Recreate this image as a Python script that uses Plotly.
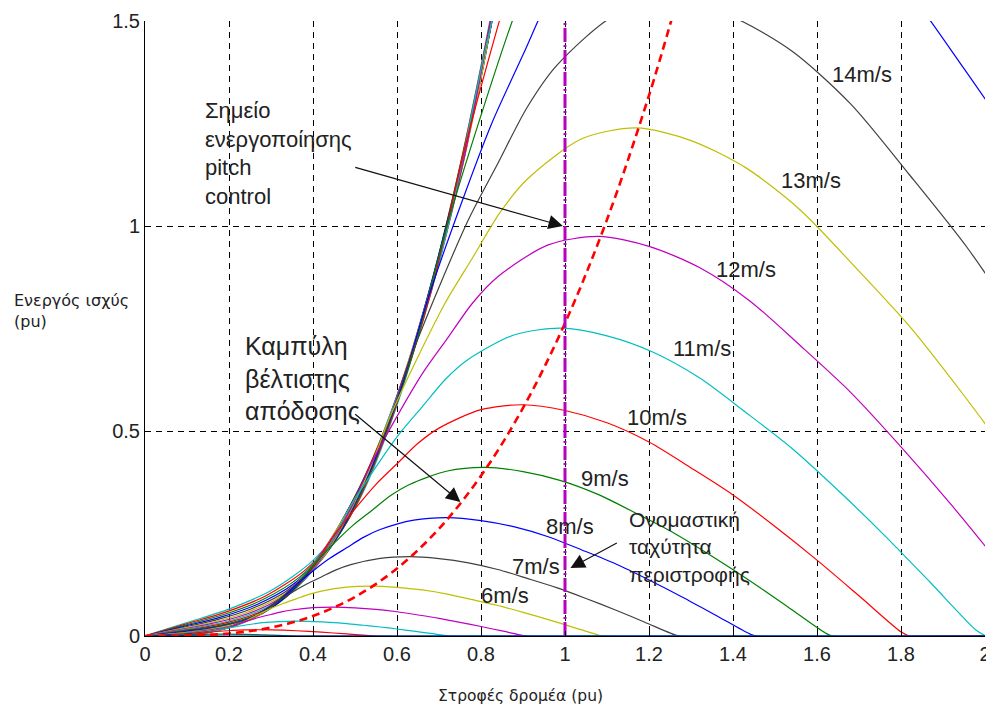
import plotly.graph_objects as go

# ---- data (rotor speed pu, active power pu) ----
SPEEDS = list(range(1, 26))

W_01 = [0, 0.04, 0.08, 0.12, 0.18, 2.0]
P_01 = [0, 0.0002, 0.0005, 0.0004, 0, 0]

W_02 = [0, 0.04, 0.08, 0.12, 0.16, 0.18, 0.20, 0.24, 0.28, 0.32, 0.364, 2.0]
P_02 = [0, 0.0002, 0.0014, 0.0034, 0.0044, 0.0045, 0.0044, 0.0038, 0.0028, 0.0015, 0, 0]

W_03 = [0, 0.06, 0.12, 0.15, 0.18, 0.21, 0.24, 0.27, 0.30, 0.36, 0.42, 0.48, 0.51, 0.546, 2.0]
P_03 = [0, 0.0005, 0.0046, 0.0086, 0.0116, 0.0139, 0.0150, 0.0152, 0.0149, 0.0128, 0.0093, 0.0050, 0.0027, 0, 0]

W_04 = [0, 0.04, 0.08, 0.12, 0.16, 0.20, 0.24, 0.28, 0.32, 0.36, 0.40, 0.44, 0.48, 0.52, 0.56, 0.60, 0.64, 0.68, 0.72, 0.728, 2.0]
P_04 = [0, 0.0004, 0.0013, 0.0047, 0.0109, 0.0198, 0.0269, 0.0324, 0.0353, 0.0361, 0.0352, 0.0333, 0.0303, 0.0262, 0.0220, 0.0171, 0.0118, 0.0063, 0.0006, 0, 0]

W_05 = [0, 0.05, 0.10, 0.15, 0.20, 0.225, 0.25, 0.275, 0.30, 0.325, 0.35, 0.40, 0.45, 0.50, 0.55, 0.60, 0.65, 0.70, 0.75, 0.80, 0.85, 0.90, 0.91, 2.0]
P_05 = [0, 0.0007, 0.0025, 0.0092, 0.0213, 0.0306, 0.0388, 0.0463, 0.0525, 0.0588, 0.0634, 0.0690, 0.0705, 0.0688, 0.0650, 0.0591, 0.0513, 0.0430, 0.0334, 0.0231, 0.0123, 0.0013, 0, 0]

W_06 = [0, 0.06, 0.12, 0.18, 0.24, 0.27, 0.30, 0.33, 0.36, 0.39, 0.42, 0.48, 0.54, 0.60, 0.66, 0.72, 0.78, 0.84, 0.90, 0.96, 1.02, 1.08, 1.092, 2.0]
P_06 = [0, 0.0012, 0.0043, 0.0159, 0.0367, 0.0529, 0.0670, 0.0799, 0.0907, 0.1015, 0.1095, 0.1192, 0.1218, 0.1188, 0.1123, 0.1022, 0.0886, 0.0743, 0.0577, 0.0400, 0.0212, 0.0022, 0, 0]

W_07 = [0, 0.07, 0.14, 0.21, 0.28, 0.315, 0.35, 0.385, 0.42, 0.455, 0.49, 0.56, 0.63, 0.70, 0.77, 0.84, 0.91, 0.98, 1.05, 1.12, 1.19, 1.26, 1.274, 2.0]
P_07 = [0, 0.0019, 0.0069, 0.0252, 0.0583, 0.0840, 0.1063, 0.1269, 0.1441, 0.1612, 0.1739, 0.1893, 0.1935, 0.1887, 0.1784, 0.1622, 0.1406, 0.1180, 0.0916, 0.0635, 0.0336, 0.0034, 0, 0]

W_08 = [0, 0.08, 0.16, 0.24, 0.32, 0.36, 0.40, 0.44, 0.48, 0.52, 0.56, 0.64, 0.72, 0.80, 0.88, 0.96, 1.04, 1.12, 1.20, 1.28, 1.36, 1.44, 1.456, 2.0]
P_08 = [0, 0.0029, 0.0102, 0.0376, 0.0870, 0.1254, 0.1587, 0.1894, 0.2150, 0.2406, 0.2596, 0.2826, 0.2888, 0.2816, 0.2662, 0.2422, 0.2099, 0.1761, 0.1367, 0.0947, 0.0502, 0.0051, 0, 0]

W_09 = [0, 0.09, 0.18, 0.27, 0.36, 0.405, 0.45, 0.495, 0.54, 0.585, 0.63, 0.72, 0.81, 0.90, 0.99, 1.08, 1.17, 1.26, 1.35, 1.44, 1.53, 1.62, 1.638, 2.0]
P_09 = [0, 0.0041, 0.0146, 0.0536, 0.1239, 0.1786, 0.2260, 0.2697, 0.3062, 0.3426, 0.3696, 0.4024, 0.4112, 0.4010, 0.3791, 0.3448, 0.2989, 0.2508, 0.1946, 0.1349, 0.0714, 0.0073, 0, 0]

W_10 = [0, 0.10, 0.20, 0.30, 0.40, 0.45, 0.50, 0.55, 0.60, 0.65, 0.70, 0.80, 0.90, 1.00, 1.10, 1.20, 1.30, 1.40, 1.50, 1.60, 1.70, 1.80, 1.82, 2.0]
P_10 = [0, 0.0056, 0.0200, 0.0735, 0.1700, 0.2450, 0.3100, 0.3700, 0.4200, 0.4700, 0.5070, 0.5520, 0.5640, 0.5500, 0.5200, 0.4730, 0.4100, 0.3440, 0.2670, 0.1850, 0.0980, 0.0100, 0, 0]

W_11 = [0, 0.11, 0.22, 0.33, 0.44, 0.495, 0.55, 0.605, 0.66, 0.715, 0.77, 0.88, 0.99, 1.10, 1.21, 1.32, 1.43, 1.54, 1.65, 1.76, 1.87, 1.98, 2.002]
P_11 = [0, 0.0075, 0.0266, 0.0978, 0.2263, 0.3261, 0.4126, 0.4925, 0.5590, 0.6256, 0.6748, 0.7347, 0.7507, 0.7321, 0.6921, 0.6296, 0.5457, 0.4579, 0.3554, 0.2462, 0.1304, 0.0133, 0]

W_12 = [0, 0.12, 0.24, 0.36, 0.48, 0.54, 0.60, 0.66, 0.72, 0.78, 0.84, 0.96, 1.08, 1.20, 1.32, 1.44, 1.56, 1.68, 1.80, 1.92, 2.04]
P_12 = [0, 0.0097, 0.0346, 0.1270, 0.2938, 0.4234, 0.5357, 0.6394, 0.7258, 0.8122, 0.8761, 0.9539, 0.9746, 0.9504, 0.8986, 0.8173, 0.7085, 0.5944, 0.4614, 0.3197, 0.1693]

W_13 = [0, 0.13, 0.26, 0.39, 0.52, 0.585, 0.65, 0.715, 0.78, 0.845, 0.91, 1.04, 1.17, 1.30, 1.43, 1.56, 1.69, 1.82, 1.95, 2.08]
P_13 = [0, 0.0123, 0.0439, 0.1615, 0.3735, 0.5383, 0.6811, 0.8129, 0.9227, 1.0326, 1.1139, 1.2127, 1.2391, 1.2084, 1.1424, 1.0392, 0.9008, 0.7558, 0.5866, 0.4064]

W_14 = [0, 0.14, 0.28, 0.42, 0.56, 0.63, 0.70, 0.77, 0.84, 0.91, 0.98, 1.12, 1.26, 1.40, 1.54, 1.68, 1.82, 1.96, 2.10]
P_14 = [0, 0.0154, 0.0549, 0.2017, 0.4665, 0.6723, 0.8506, 1.0153, 1.1525, 1.2897, 1.3912, 1.5147, 1.5476, 1.5092, 1.4269, 1.2979, 1.1250, 0.9439, 0.7326]

W_15 = [0, 0.06, 0.12, 0.18, 0.24, 0.30, 0.36, 0.42, 0.48, 0.54, 0.60, 0.675, 0.75, 0.825, 0.90, 0.975, 1.05, 1.20, 1.35, 1.50, 1.65, 1.80, 1.95, 2.10]
P_15 = [0, 0.0071, 0.0142, 0.0240, 0.0398, 0.0675, 0.1215, 0.1991, 0.3004, 0.4185, 0.5738, 0.8269, 1.0463, 1.2488, 1.4175, 1.5863, 1.7111, 1.8630, 1.9035, 1.8563, 1.7550, 1.5964, 1.3838, 1.1610]

W_16 = [0, 0.064, 0.128, 0.192, 0.256, 0.32, 0.384, 0.448, 0.512, 0.576, 0.64, 0.72, 0.80, 0.88, 0.96]
P_16 = [0, 0.0086, 0.0172, 0.0291, 0.0483, 0.0819, 0.1475, 0.2417, 0.3645, 0.5079, 0.6963, 1.0035, 1.2698, 1.5155, 1.7203]

W_17 = [0, 0.068, 0.136, 0.204, 0.272, 0.34, 0.408, 0.476, 0.544, 0.612, 0.68, 0.765, 0.85, 0.935]
P_17 = [0, 0.0103, 0.0206, 0.0349, 0.0580, 0.0983, 0.1769, 0.2899, 0.4373, 0.6092, 0.8352, 1.2037, 1.5230, 1.8178]

W_18 = [0, 0.072, 0.144, 0.216, 0.288, 0.36, 0.432, 0.504, 0.576, 0.648, 0.72, 0.81, 0.90]
P_18 = [0, 0.0122, 0.0245, 0.0414, 0.0688, 0.1166, 0.2100, 0.3441, 0.5190, 0.7232, 0.9914, 1.4288, 1.8079]

W_19 = [0, 0.076, 0.152, 0.228, 0.304, 0.38, 0.456, 0.532, 0.608, 0.684, 0.76, 0.855]
P_19 = [0, 0.0144, 0.0288, 0.0487, 0.0809, 0.1372, 0.2469, 0.4047, 0.6105, 0.8505, 1.1660, 1.6805]

W_20 = [0, 0.08, 0.16, 0.24, 0.32, 0.40, 0.48, 0.56, 0.64, 0.72, 0.80, 0.90]
P_20 = [0, 0.0168, 0.0336, 0.0568, 0.0944, 0.1600, 0.2880, 0.4720, 0.7120, 0.9920, 1.3600, 1.9600]

W_21 = [0, 0.084, 0.168, 0.252, 0.336, 0.42, 0.504, 0.588, 0.672, 0.756, 0.84]
P_21 = [0, 0.0194, 0.0389, 0.0658, 0.1093, 0.1852, 0.3334, 0.5464, 0.8242, 1.1484, 1.5744]

W_22 = [0, 0.088, 0.176, 0.264, 0.352, 0.44, 0.528, 0.616, 0.704, 0.792, 0.88]
P_22 = [0, 0.0224, 0.0447, 0.0756, 0.1256, 0.2130, 0.3833, 0.6282, 0.9477, 1.3204, 1.8102]

W_23 = [0, 0.092, 0.184, 0.276, 0.368, 0.46, 0.552, 0.644, 0.736, 0.828, 0.92]
P_23 = [0, 0.0256, 0.0511, 0.0864, 0.1436, 0.2433, 0.4380, 0.7179, 1.0829, 1.5087, 2.0680]

W_24 = [0, 0.096, 0.192, 0.288, 0.384, 0.48, 0.576, 0.672, 0.768, 0.864]
P_24 = [0, 0.0290, 0.0581, 0.0981, 0.1631, 0.2765, 0.4977, 0.8156, 1.2303, 1.7142]

W_25 = [0, 0.10, 0.20, 0.30, 0.40, 0.50, 0.60, 0.70, 0.80, 0.90]
P_25 = [0, 0.0328, 0.0656, 0.1109, 0.1844, 0.3125, 0.5625, 0.9219, 1.3906, 1.9375]

# optimal-power (max efficiency) curve
OPT_W = [0, 0.1, 0.2, 0.3, 0.4, 0.5, 0.6, 0.7, 0.8, 0.9, 1.0, 1.1, 1.2, 1.26]
OPT_P = [0, 0.0008, 0.0061, 0.0206, 0.0488, 0.0954, 0.1648, 0.2617, 0.3907, 0.5562, 0.763, 1.0156, 1.3185, 1.5263]

# nominal rotor speed line
NOM_W = [1.0, 1.0]
NOM_P = [0.0, 1.5]

# wind-speed labels (text, x, y)
LABEL_TEXT = ["14m/s", "13m/s", "12m/s", "11m/s", "10m/s", "9m/s", "8m/s", "7m/s", "6m/s"]
LABEL_X = [1.707, 1.586, 1.432, 1.325, 1.22, 1.096, 1.013, 0.93, 0.858]
LABEL_Y = [1.37, 1.112, 0.893, 0.702, 0.532, 0.385, 0.268, 0.17, 0.10]

X_TICKS = [0, 0.2, 0.4, 0.6, 0.8, 1, 1.2, 1.4, 1.6, 1.8, 2]
X_TICK_TEXT = ["0", "0.2", "0.4", "0.6", "0.8", "1", "1.2", "1.4", "1.6", "1.8", "2"]
Y_TICKS = [0, 0.5, 1, 1.5]
Y_TICK_TEXT = ["0", "0.5", "1", "1.5"]

CURVES_W = [W_01, W_02, W_03, W_04, W_05, W_06, W_07, W_08, W_09, W_10, W_11, W_12, W_13,
            W_14, W_15, W_16, W_17, W_18, W_19, W_20, W_21, W_22, W_23, W_24, W_25]
CURVES_P = [P_01, P_02, P_03, P_04, P_05, P_06, P_07, P_08, P_09, P_10, P_11, P_12, P_13,
            P_14, P_15, P_16, P_17, P_18, P_19, P_20, P_21, P_22, P_23, P_24, P_25]

COLOR_ORDER = ["#0000ff", "#008000", "#ff0000", "#00bfbf", "#bf00bf", "#bfbf00", "#404040"]

fig = go.Figure()

# draw high wind speeds first so the 1 m/s curve ends on top (blue baseline)
for i in reversed(range(len(SPEEDS))):
    fig.add_trace(go.Scatter(
        x=CURVES_W[i], y=CURVES_P[i], mode="lines",
        line=dict(color=COLOR_ORDER[i % 7], width=1.2, shape="spline", smoothing=0.8),
        name=f"{SPEEDS[i]}m/s", showlegend=False, hoverinfo="skip"))

fig.add_trace(go.Scatter(
    x=OPT_W, y=OPT_P, mode="lines",
    line=dict(color="#ff0000", width=2.6, dash="8px,5px", shape="spline"),
    showlegend=False, hoverinfo="skip"))

fig.add_trace(go.Scatter(
    x=NOM_W, y=NOM_P, mode="lines",
    line=dict(color="#b800c0", width=3, dash="14px,3px,2px,3px"),
    showlegend=False, hoverinfo="skip"))

TXT = "#222222"
FONT = "Liberation Sans, Arial, sans-serif"

annotations = []
for t, x, y in zip(LABEL_TEXT, LABEL_X, LABEL_Y):
    annotations.append(dict(x=x, y=y, xref="x", yref="y", text=t, showarrow=False,
                            font=dict(family=FONT, size=22, color=TXT)))

annotations += [
    dict(x=0.138, y=1.178, xref="x", yref="y", xanchor="left", yanchor="middle", align="left",
         text="Σημείο<br>ενεργοποίησης<br>pitch<br>control", showarrow=False,
         font=dict(family=FONT, size=22, color=TXT)),
    dict(x=0.233, y=0.629, xref="x", yref="y", xanchor="left", yanchor="middle", align="left",
         text="Καμπύλη<br>βέλτιστης<br>απόδοσης", showarrow=False,
         font=dict(family=FONT, size=25, color=TXT)),
    dict(x=1.148, y=0.217, xref="x", yref="y", xanchor="left", yanchor="middle", align="left",
         text="Ονομαστική<br>ταχύτητα<br>περιστροφής", showarrow=False,
         font=dict(family=FONT, size=21, color=TXT)),
    # arrows
    dict(x=0.995, y=1.0, ax=0.497, ay=1.144, xref="x", yref="y", axref="x", ayref="y",
         text="", showarrow=True, arrowhead=2, arrowsize=2.4, arrowwidth=1.2, arrowcolor="#111"),
    dict(x=0.751, y=0.327, ax=0.497, ay=0.544, xref="x", yref="y", axref="x", ayref="y",
         text="", showarrow=True, arrowhead=2, arrowsize=2.4, arrowwidth=1.2, arrowcolor="#111"),
    dict(x=1.013, y=0.166, ax=1.127, ay=0.229, xref="x", yref="y", axref="x", ayref="y",
         text="", showarrow=True, arrowhead=2, arrowsize=2.4, arrowwidth=1.2, arrowcolor="#111"),
    # axis titles
    dict(x=-0.158, y=0.528, xref="paper", yref="paper", xanchor="left", yanchor="middle",
         align="left", text="Ενεργός ισχύς<br>(pu)", showarrow=False,
         font=dict(family="DejaVu Sans, sans-serif", size=16, color=TXT)),
    dict(x=0.447, y=-0.098, xref="paper", yref="paper", xanchor="center", yanchor="middle",
         text="Στροφές δρομέα (pu)", showarrow=False,
         font=dict(family="DejaVu Sans, sans-serif", size=15.5, color=TXT)),
]

fig.update_layout(
    width=986, height=697,
    margin=dict(l=137, r=9, t=13, b=69, autoexpand=False),
    paper_bgcolor="white", plot_bgcolor="white",
    annotations=annotations,
    xaxis=dict(range=[0, 2], tickvals=X_TICKS, ticktext=X_TICK_TEXT, automargin=False,
               showgrid=True, gridcolor="#000000", gridwidth=1, griddash="6px,5px",
               zeroline=False, showline=True, linecolor="#000000", linewidth=1,
               ticks="inside", ticklen=5, tickcolor="#000000",
               tickfont=dict(family=FONT, size=20, color=TXT)),
    yaxis=dict(range=[0, 1.5], tickvals=Y_TICKS, ticktext=Y_TICK_TEXT, automargin=False,
               showgrid=True, gridcolor="#000000", gridwidth=1, griddash="6px,5px",
               zeroline=False, showline=True, linecolor="#000000", linewidth=1,
               ticks="inside", ticklen=5, tickcolor="#000000",
               tickfont=dict(family=FONT, size=20, color=TXT)),
)

fig.write_html("out.html")
